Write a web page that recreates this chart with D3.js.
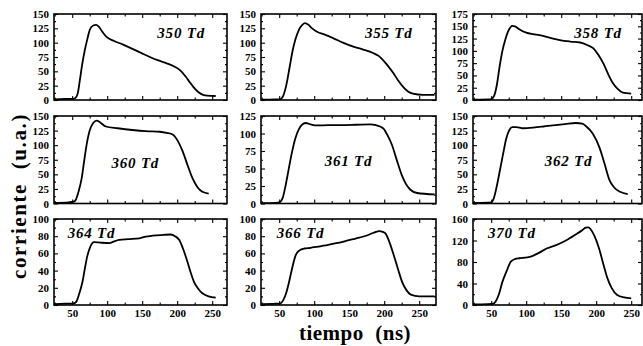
<!DOCTYPE html>
<html>
<head>
<meta charset="utf-8">
<script src="https://cdn.jsdelivr.net/npm/d3@7"></script>
<style>
  body { margin: 0; background: #fff; }
  svg { display: block; }
  .tick text { font-family: "Liberation Serif", "Times New Roman", serif; font-weight: bold; font-size: 11px; fill: #000; }
  .domain { display: none; }
  .tick line { stroke: #000; stroke-width: 1.1; }
</style>
</head>
<body>
<script>
// panel labels (reduced field)
const labels = ["350 Td", "355 Td", "358 Td", "360 Td", "361 Td", "362 Td", "364 Td", "366 Td", "370 Td"];

// y axis top value and step per panel
const yMaxes = [150, 150, 175, 150, 125, 150, 100, 100, 160];
const ySteps = [25, 25, 25, 25, 25, 25, 20, 20, 40];

const xTicks = [50, 100, 150, 200, 250];
const xMinor = [25, 75, 125, 175, 225];

// current traces, [time (ns), current (u.a.)]
const s350 = [[24,1],[40,2],[50,2],[54,3],[58,12],[61,35],[64,60],[68,87],[72,108],[75,122],[80,130],[84,131],[88,128],[93,119],[99,110],[110,103],[122,97],[133,91],[147,83],[161,75],[173,69],[185,64],[195,59],[204,52],[212,41],[218,31],[223,23],[230,14],[237,9],[243,7.5],[255,7],[272,7]];
const s355 = [[24,0.5],[45,1],[52,1.5],[56,8],[60,25],[65,58],[69,85],[73,105],[78,122],[83,131],[87,134],[92,131],[97,125],[104,119],[115,114],[127,108],[141,100],[156,93],[170,88],[184,82],[192,77],[198,70],[205,60],[213,47],[220,34],[227,23],[234,15],[241,11],[255,9],[272,9]];
const s358 = [[24,0.5],[45,1],[50,2],[54,8],[58,30],[62,68],[66,100],[70,122],[75,142],[80,151],[84,150],[90,144],[100,137],[110,134],[119,132],[133,127],[148,122],[163,119],[177,117],[187,112],[196,105],[203,92],[210,75],[217,53],[224,34],[231,22],[238,15],[250,13],[272,13]];
const s360 = [[24,1],[45,2],[52,3],[55,6],[59,20],[63.5,43],[67,72],[70.5,100],[75,125],[80,138],[85,142],[90,139],[98,132],[115,129],[136,126],[155,124],[175,123],[185,121],[194,118],[201,107],[208,89],[215,65],[222,43],[229,28],[236,20],[245,17],[272,16]];
const s361 = [[24,0.5],[45,1],[51,2],[55,8],[59,25],[63,46],[68,72],[73,93],[78,106],[82,112],[88,115],[95,113],[104,111.5],[120,112],[140,112],[160,112.5],[180,113],[188,112],[194,110],[199,107],[205,97],[211,84],[218,62],[225,41],[231,28],[237,20],[247,15],[272,13]];
const s362 = [[24,1],[45,1.5],[50,2],[54,10],[58,30],[62,54],[67,85],[71.6,112],[76,126],[80,131],[86,131],[95,129],[110,130],[125,132],[138,134],[155,136],[171,138],[180,137],[186,132],[195,120],[205,95],[212,68],[219,40],[226,27],[234,20],[245,16],[272,15]];
const s364 = [[24,1],[40,1.5],[52,2],[56,4],[60,13],[64.7,27],[68,42],[71.9,58],[76,68],[81,73],[90,72.5],[103,72],[110,74],[117,75.6],[130,76.5],[146,77.5],[155,79.5],[165,80.6],[180,81.5],[191,82],[197,80],[203,75.6],[209,64],[214.7,50],[220,36],[224,27],[230,19],[236,13.6],[245,10],[255,8.5],[272,8]];
const s366 = [[24,1],[45,1.5],[52,2],[56,6],[60,14],[64,26.5],[68,41],[73.6,58],[79,63.5],[85.7,65.7],[95,66.5],[102.4,67.5],[120,70],[140.5,73.4],[158,77],[174,80.5],[185,84],[193,86],[198,85],[202,83],[208,72],[214,57],[220,41],[226,26],[232,17],[238,12],[250,10],[272,10]];
const s370 = [[24,1],[45,1.5],[53,2.5],[57,8],[61,20],[66,43],[72,63],[78,80.6],[84,85.5],[90,87],[98,88],[106.6,90],[118,97],[130,105.5],[142,111],[154,118],[163,125],[173,133],[180,139],[185,144],[189,144.5],[192,141],[197,130],[204,105.5],[210,77],[216,50],[222,32],[230,18.6],[240,14],[250,12.4],[272,12]];
const series = [s350, s355, s358, s360, s361, s362, s364, s366, s370];

const W = 643, H = 346;
const colLeft = [54, 261, 473];
const colWidth = [173, 175, 169];
const rowTop = [14, 116, 219];
const rowHeight = [86, 87.5, 86];
const pxPerNs = 0.7;
const xStart = 24;

// label placement inside each panel (fraction of width, fraction of height)
const labelPos = [[0.735, 0.28], [0.73, 0.28], [0.74, 0.28],
                  [0.47, 0.59], [0.5, 0.57], [0.565, 0.57],
                  [0.217, 0.22], [0.226, 0.22], [0.23, 0.22]];

const svg = d3.select("body").append("svg")
  .attr("width", W)
  .attr("height", H);

series.forEach((data, i) => {
  const row = Math.floor(i / 3), col = i % 3;
  const w = colWidth[col], h = rowHeight[row];
  const g = svg.append("g")
    .attr("transform", `translate(${colLeft[col]},${rowTop[row]})`);

  const x = d3.scaleLinear().domain([xStart, xStart + w / pxPerNs]).range([0, w]);
  const y = d3.scaleLinear().domain([0, yMaxes[i]]).range([h, 0]);

  const yMajor = d3.range(0, yMaxes[i] + 0.01, ySteps[i]);
  const yMinorT = d3.range(ySteps[i] / 2, yMaxes[i], ySteps[i]);

  // left axis with labels
  g.append("g")
    .call(d3.axisLeft(y).tickValues(yMajor).tickSize(-4).tickPadding(5).tickFormat(d3.format("d")));
  g.append("g")
    .call(d3.axisLeft(y).tickValues(yMinorT).tickSize(-2).tickFormat(""));
  // right side ticks
  g.append("g").attr("transform", `translate(${w},0)`)
    .call(d3.axisRight(y).tickValues(yMajor).tickSize(-4).tickFormat(""));
  g.append("g").attr("transform", `translate(${w},0)`)
    .call(d3.axisRight(y).tickValues(yMinorT).tickSize(-2).tickFormat(""));

  // bottom axis
  const xb = d3.axisBottom(x).tickValues(xTicks).tickSize(-4).tickPadding(4)
    .tickFormat(row === 2 ? d3.format("d") : "");
  g.append("g").attr("transform", `translate(0,${h})`).call(xb);
  g.append("g").attr("transform", `translate(0,${h})`)
    .call(d3.axisBottom(x).tickValues(xMinor.filter(v => v > xStart)).tickSize(-2.5).tickFormat(""));
  // top ticks
  g.append("g")
    .call(d3.axisTop(x).tickValues(xTicks).tickSize(-4).tickFormat(""));
  g.append("g")
    .call(d3.axisTop(x).tickValues(xMinor.filter(v => v > xStart)).tickSize(-2.5).tickFormat(""));

  // frame
  g.append("rect")
    .attr("width", w)
    .attr("height", h)
    .attr("fill", "none")
    .attr("stroke", "#000")
    .attr("stroke-width", 1.6);

  const line = d3.line()
    .curve(d3.curveMonotoneX)
    .x(d => x(d[0]))
    .y(d => y(d[1]));

  g.append("path")
    .datum(data.filter(d => d[0] <= xStart + w / pxPerNs))
    .attr("d", line)
    .attr("fill", "none")
    .attr("stroke", "#000")
    .attr("stroke-width", 1.8)
    .attr("stroke-linejoin", "round");

  g.append("text")
    .attr("x", w * labelPos[i][0])
    .attr("y", h * labelPos[i][1])
    .attr("text-anchor", "middle")
    .style("font-family", "'Liberation Serif', 'Times New Roman', serif")
    .style("font-weight", "bold")
    .style("font-style", "italic")
    .style("font-size", "15px")
    .style("letter-spacing", "0.8px")
    .text(labels[i]);
});

// axis titles
svg.append("text")
  .attr("transform", "translate(26,196) rotate(-90)")
  .attr("text-anchor", "middle")
  .style("font-family", "'Liberation Serif', 'Times New Roman', serif")
  .style("font-weight", "bold")
  .style("font-size", "21px")
  .style("letter-spacing", "1.6px")
  .style("white-space", "pre")
  .text("corriente  (u.a.)");

svg.append("text")
  .attr("x", 355)
  .attr("y", 340)
  .attr("text-anchor", "middle")
  .style("font-family", "'Liberation Serif', 'Times New Roman', serif")
  .style("font-weight", "bold")
  .style("font-size", "21px")
  .style("letter-spacing", "0.5px")
  .style("white-space", "pre")
  .text("tiempo  (ns)");
</script>
</body>
</html>
